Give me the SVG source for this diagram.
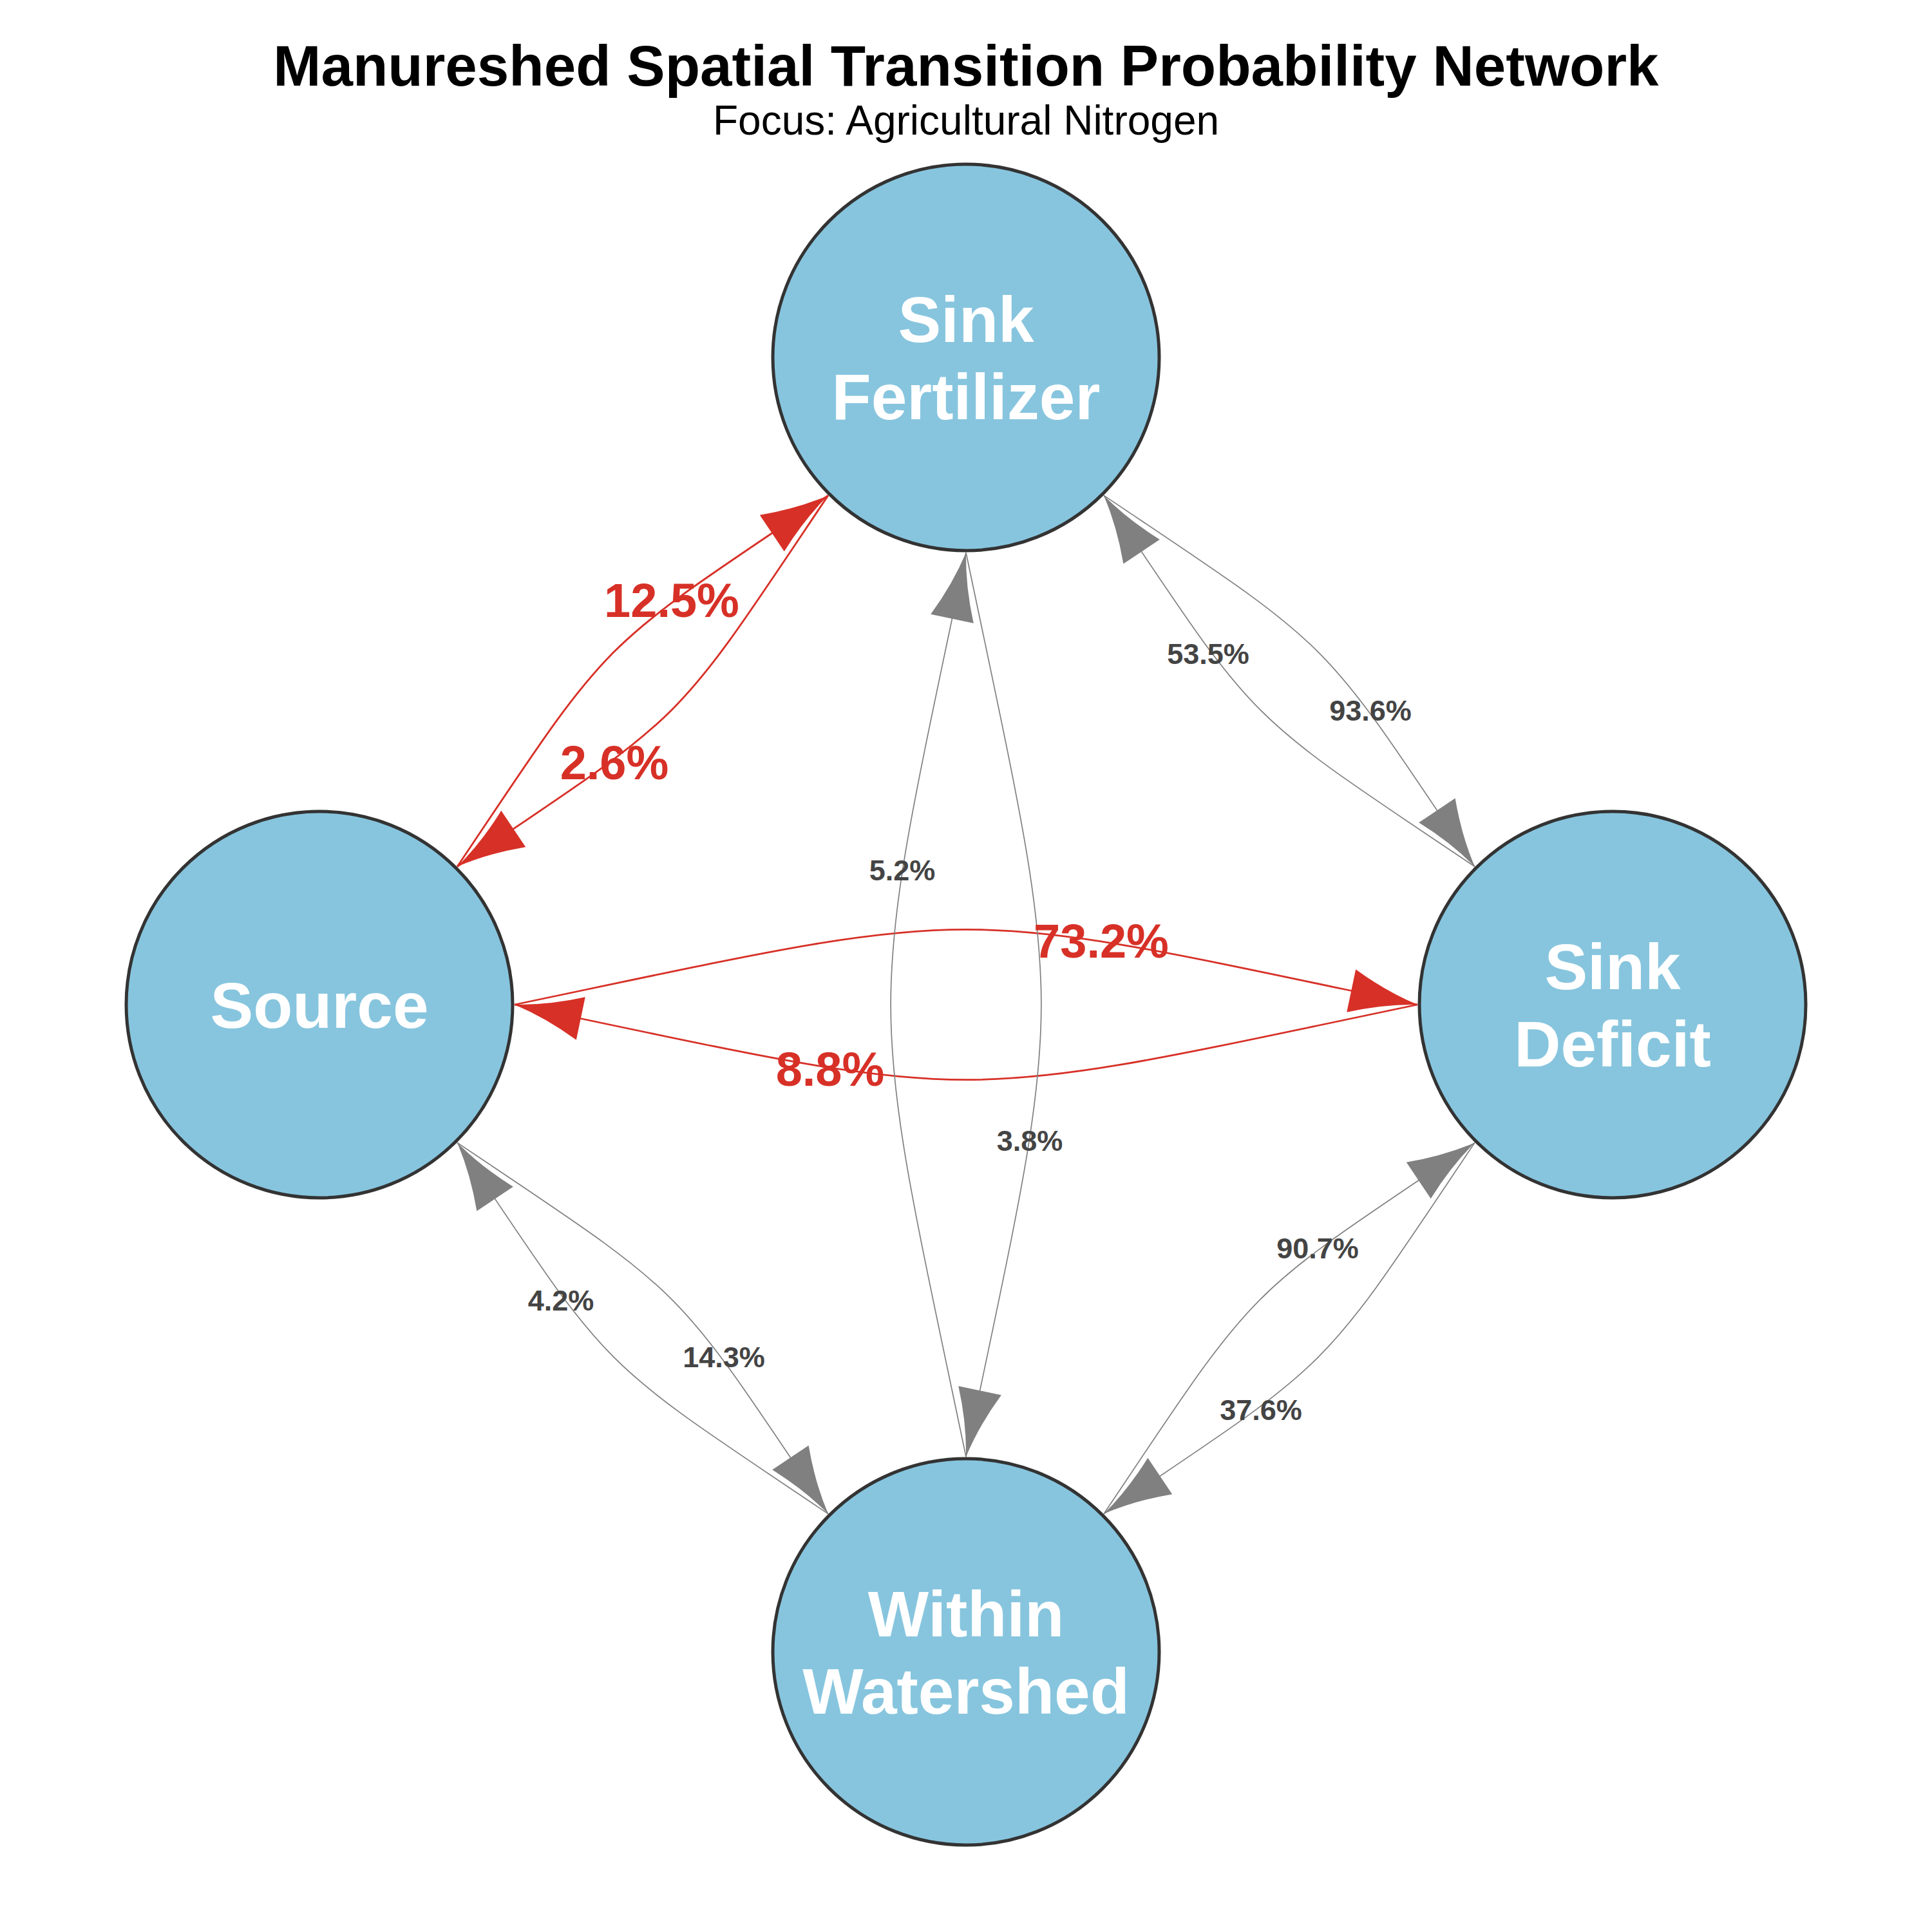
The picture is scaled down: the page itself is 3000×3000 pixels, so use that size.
<svg xmlns="http://www.w3.org/2000/svg" width="3000" height="3000" viewBox="0 0 3000 3000">
<style>
text{font-family:"Liberation Sans",Arial,Helvetica,sans-serif;text-anchor:middle}
.title{font-size:89px;font-weight:bold;fill:#000}
.sub{font-size:64px;fill:#000}
.node circle{fill:#87c5de;stroke:#333333;stroke-width:5}
.node text{font-size:100px;font-weight:bold;fill:#ffffff}
.er{fill:none;stroke:#d73027;stroke-width:2.8;marker-end:url(#ahR)}
.eg{fill:none;stroke:#808080;stroke-width:1.7;marker-end:url(#ahG)}
.lr{font-size:74px;font-weight:bold;fill:#d73027}
.lg{font-size:45px;font-weight:bold;fill:#444444}
</style>
<defs>
<marker id="ahR" markerUnits="userSpaceOnUse" viewBox="-110 -40 120 80" markerWidth="120" markerHeight="80" refX="0" refY="0" orient="auto">
<path d="M0,0 Q-52,-10 -105,-34 L-105,34 Q-52,10 0,0 Z" fill="#d73027"/>
</marker>
<marker id="ahG" markerUnits="userSpaceOnUse" viewBox="-110 -40 120 80" markerWidth="120" markerHeight="80" refX="0" refY="0" orient="auto">
<path d="M0,0 Q-52,-10 -105,-34 L-105,34 Q-52,10 0,0 Z" fill="#808080"/>
</marker>
</defs>
<rect width="3000" height="3000" fill="#ffffff"/>
<text class="title" x="1500" y="133">Manureshed Spatial Transition Probability Network</text>
<text class="sub" x="1500" y="209">Focus: Agricultural Nitrogen</text>
<g id="connectors">
<path id="e-source-fert" class="er" d="M710.1,1345.6 C955.3,980.3 920.9,1014.9 1285.9,769.4"/>
<path id="e-fert-source" class="er" d="M1285.9,769.4 C1040.7,1134.7 1075.1,1100.1 710.1,1345.6"/>
<path id="e-source-deficit" class="er" d="M799,1560 C1542.1,1404.4 1457.9,1404.4 2201,1560"/>
<path id="e-deficit-source" class="er" d="M2201,1560 C1457.9,1715.6 1542.1,1715.6 799,1560"/>
<path id="e-fert-deficit" class="eg" d="M1714.1,769.4 C2079.1,1014.9 2044.7,980.3 2289.9,1345.6"/>
<path id="e-deficit-fert" class="eg" d="M2289.9,1345.6 C1924.9,1100.1 1959.3,1134.7 1714.1,769.4"/>
<path id="e-source-within" class="eg" d="M710.1,1774.4 C1075.1,2019.9 1040.7,1985.3 1285.9,2350.6"/>
<path id="e-within-source" class="eg" d="M1285.9,2350.6 C920.9,2105.1 955.3,2139.7 710.1,1774.4"/>
<path id="e-fert-within" class="eg" d="M1500,858 C1655.8,1602.1 1655.8,1517.9 1500,2262"/>
<path id="e-within-fert" class="eg" d="M1500,2262 C1344.2,1517.9 1344.2,1602.1 1500,858"/>
<path id="e-within-deficit" class="eg" d="M1714.1,2350.6 C1959.3,1985.3 1924.9,2019.9 2289.9,1774.4"/>
<path id="e-deficit-within" class="eg" d="M2289.9,1774.4 C2044.7,2139.7 2079.1,2105.1 1714.1,2350.6"/>
</g>
<g id="node-sink-fertilizer" class="node">
<circle cx="1500" cy="555" r="300"/>
<text x="1500" y="531">Sink</text>
<text x="1500" y="651">Fertilizer</text>
</g>
<g id="node-source" class="node">
<circle cx="496" cy="1560" r="300"/>
<text x="496" y="1596">Source</text>
</g>
<g id="node-sink-deficit" class="node">
<circle cx="2504" cy="1560" r="300"/>
<text x="2504" y="1536">Sink</text>
<text x="2504" y="1656">Deficit</text>
</g>
<g id="node-within-watershed" class="node">
<circle cx="1500" cy="2565" r="300"/>
<text x="1500" y="2541">Within</text>
<text x="1500" y="2661">Watershed</text>
</g>
<g id="edge-labels">
<text class="lr" x="1043" y="958">12.5%</text>
<text class="lr" x="954" y="1210">2.6%</text>
<text class="lr" x="1710" y="1487">73.2%</text>
<text class="lr" x="1289" y="1686">8.8%</text>
<text class="lg" x="1876" y="1031">53.5%</text>
<text class="lg" x="2128" y="1119">93.6%</text>
<text class="lg" x="1401" y="1367">5.2%</text>
<text class="lg" x="1599" y="1787">3.8%</text>
<text class="lg" x="2046" y="1954">90.7%</text>
<text class="lg" x="1958" y="2205">37.6%</text>
<text class="lg" x="871" y="2035">4.2%</text>
<text class="lg" x="1124" y="2123">14.3%</text>
</g>
</svg>
